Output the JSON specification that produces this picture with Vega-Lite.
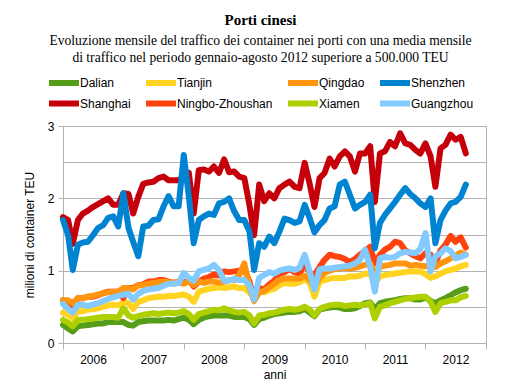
{
  "$schema": "https://vega.github.io/schema/vega-lite/v6.json",
  "width": 423,
  "height": 217,
  "autosize": {"type": "none"},
  "padding": {"left": 63, "top": 126, "right": 35, "bottom": 45},
  "background": "white",
  "title": {
    "text": "Porti cinesi",
    "subtitle": ["Evoluzione mensile del traffico dei container nei porti con una media mensile", "di traffico nel periodo gennaio-agosto 2012 superiore a 500.000 TEU"],
    "anchor": "middle",
    "frame": "group",
    "dx": -14,
    "offset": 10,
    "font": "Liberation Serif",
    "fontSize": 15,
    "fontWeight": "bold",
    "color": "#000000",
    "subtitleFont": "Liberation Serif",
    "subtitleFontSize": 13.6,
    "subtitleColor": "#000000",
    "subtitleLineHeight": 17,
    "subtitlePadding": 6
  },
  "data": {
    "values": [
      {"m": "2006-01-01", "Dalian": 0.25, "Tianjin": 0.42, "Qingdao": 0.59, "Shenzhen": 1.70, "Shanghai": 1.74, "Ningbo-Zhoushan": 0.59, "Xiamen": 0.32, "Guangzhou": 0.54},
      {"m": "2006-02-01", "Dalian": 0.20, "Tianjin": 0.39, "Qingdao": 0.59, "Shenzhen": 1.49, "Shanghai": 1.70, "Ningbo-Zhoushan": 0.57, "Xiamen": 0.28, "Guangzhou": 0.47},
      {"m": "2006-03-01", "Dalian": 0.16, "Tianjin": 0.34, "Qingdao": 0.55, "Shenzhen": 1.01, "Shanghai": 1.37, "Ningbo-Zhoushan": 0.50, "Xiamen": 0.23, "Guangzhou": 0.42},
      {"m": "2006-04-01", "Dalian": 0.23, "Tianjin": 0.44, "Qingdao": 0.62, "Shenzhen": 1.36, "Shanghai": 1.70, "Ningbo-Zhoushan": 0.62, "Xiamen": 0.32, "Guangzhou": 0.53},
      {"m": "2006-05-01", "Dalian": 0.24, "Tianjin": 0.44, "Qingdao": 0.62, "Shenzhen": 1.39, "Shanghai": 1.79, "Ningbo-Zhoushan": 0.62, "Xiamen": 0.32, "Guangzhou": 0.53},
      {"m": "2006-06-01", "Dalian": 0.25, "Tianjin": 0.46, "Qingdao": 0.64, "Shenzhen": 1.40, "Shanghai": 1.83, "Ningbo-Zhoushan": 0.64, "Xiamen": 0.33, "Guangzhou": 0.51},
      {"m": "2006-07-01", "Dalian": 0.26, "Tianjin": 0.47, "Qingdao": 0.65, "Shenzhen": 1.49, "Shanghai": 1.88, "Ningbo-Zhoushan": 0.64, "Xiamen": 0.34, "Guangzhou": 0.53},
      {"m": "2006-08-01", "Dalian": 0.27, "Tianjin": 0.48, "Qingdao": 0.67, "Shenzhen": 1.59, "Shanghai": 1.92, "Ningbo-Zhoushan": 0.66, "Xiamen": 0.35, "Guangzhou": 0.55},
      {"m": "2006-09-01", "Dalian": 0.27, "Tianjin": 0.50, "Qingdao": 0.69, "Shenzhen": 1.63, "Shanghai": 1.96, "Ningbo-Zhoushan": 0.69, "Xiamen": 0.36, "Guangzhou": 0.58},
      {"m": "2006-10-01", "Dalian": 0.29, "Tianjin": 0.52, "Qingdao": 0.70, "Shenzhen": 1.73, "Shanghai": 2.00, "Ningbo-Zhoushan": 0.71, "Xiamen": 0.36, "Guangzhou": 0.61},
      {"m": "2006-11-01", "Dalian": 0.29, "Tianjin": 0.53, "Qingdao": 0.71, "Shenzhen": 1.75, "Shanghai": 1.91, "Ningbo-Zhoushan": 0.71, "Xiamen": 0.36, "Guangzhou": 0.63},
      {"m": "2006-12-01", "Dalian": 0.29, "Tianjin": 0.52, "Qingdao": 0.71, "Shenzhen": 1.61, "Shanghai": 1.91, "Ningbo-Zhoushan": 0.71, "Xiamen": 0.35, "Guangzhou": 0.65},
      {"m": "2007-01-01", "Dalian": 0.29, "Tianjin": 0.56, "Qingdao": 0.76, "Shenzhen": 2.07, "Shanghai": 2.07, "Ningbo-Zhoushan": 0.62, "Xiamen": 0.48, "Guangzhou": 0.67},
      {"m": "2007-02-01", "Dalian": 0.25, "Tianjin": 0.55, "Qingdao": 0.76, "Shenzhen": 1.59, "Shanghai": 2.06, "Ningbo-Zhoushan": 0.76, "Xiamen": 0.38, "Guangzhou": 0.68},
      {"m": "2007-03-01", "Dalian": 0.24, "Tianjin": 0.47, "Qingdao": 0.74, "Shenzhen": 1.40, "Shanghai": 1.79, "Ningbo-Zhoushan": 0.76, "Xiamen": 0.35, "Guangzhou": 0.60},
      {"m": "2007-04-01", "Dalian": 0.29, "Tianjin": 0.57, "Qingdao": 0.80, "Shenzhen": 1.20, "Shanghai": 2.02, "Ningbo-Zhoushan": 0.80, "Xiamen": 0.37, "Guangzhou": 0.68},
      {"m": "2007-05-01", "Dalian": 0.30, "Tianjin": 0.59, "Qingdao": 0.80, "Shenzhen": 1.61, "Shanghai": 2.20, "Ningbo-Zhoushan": 0.81, "Xiamen": 0.39, "Guangzhou": 0.72},
      {"m": "2007-06-01", "Dalian": 0.31, "Tianjin": 0.62, "Qingdao": 0.82, "Shenzhen": 1.62, "Shanghai": 2.22, "Ningbo-Zhoushan": 0.85, "Xiamen": 0.40, "Guangzhou": 0.74},
      {"m": "2007-07-01", "Dalian": 0.31, "Tianjin": 0.63, "Qingdao": 0.83, "Shenzhen": 1.70, "Shanghai": 2.23, "Ningbo-Zhoushan": 0.85, "Xiamen": 0.41, "Guangzhou": 0.75},
      {"m": "2007-08-01", "Dalian": 0.31, "Tianjin": 0.64, "Qingdao": 0.84, "Shenzhen": 1.71, "Shanghai": 2.28, "Ningbo-Zhoushan": 0.87, "Xiamen": 0.40, "Guangzhou": 0.76},
      {"m": "2007-09-01", "Dalian": 0.31, "Tianjin": 0.64, "Qingdao": 0.85, "Shenzhen": 1.89, "Shanghai": 2.30, "Ningbo-Zhoushan": 0.87, "Xiamen": 0.41, "Guangzhou": 0.79},
      {"m": "2007-10-01", "Dalian": 0.32, "Tianjin": 0.65, "Qingdao": 0.84, "Shenzhen": 2.03, "Shanghai": 2.25, "Ningbo-Zhoushan": 0.85, "Xiamen": 0.42, "Guangzhou": 0.82},
      {"m": "2007-11-01", "Dalian": 0.31, "Tianjin": 0.65, "Qingdao": 0.83, "Shenzhen": 1.89, "Shanghai": 2.25, "Ningbo-Zhoushan": 0.83, "Xiamen": 0.41, "Guangzhou": 0.82},
      {"m": "2007-12-01", "Dalian": 0.33, "Tianjin": 0.66, "Qingdao": 0.84, "Shenzhen": 1.89, "Shanghai": 2.25, "Ningbo-Zhoushan": 0.85, "Xiamen": 0.42, "Guangzhou": 0.83},
      {"m": "2008-01-01", "Dalian": 0.35, "Tianjin": 0.67, "Qingdao": 0.82, "Shenzhen": 2.60, "Shanghai": 2.30, "Ningbo-Zhoushan": 0.83, "Xiamen": 0.44, "Guangzhou": 0.97},
      {"m": "2008-02-01", "Dalian": 0.32, "Tianjin": 0.64, "Qingdao": 0.85, "Shenzhen": 2.02, "Shanghai": 2.35, "Ningbo-Zhoushan": 0.87, "Xiamen": 0.40, "Guangzhou": 0.90},
      {"m": "2008-03-01", "Dalian": 0.26, "Tianjin": 0.57, "Qingdao": 0.80, "Shenzhen": 1.38, "Shanghai": 1.79, "Ningbo-Zhoushan": 0.78, "Xiamen": 0.32, "Guangzhou": 0.86},
      {"m": "2008-04-01", "Dalian": 0.32, "Tianjin": 0.71, "Qingdao": 0.85, "Shenzhen": 1.70, "Shanghai": 2.39, "Ningbo-Zhoushan": 0.85, "Xiamen": 0.40, "Guangzhou": 0.99},
      {"m": "2008-05-01", "Dalian": 0.35, "Tianjin": 0.73, "Qingdao": 0.83, "Shenzhen": 1.75, "Shanghai": 2.40, "Ningbo-Zhoushan": 0.89, "Xiamen": 0.42, "Guangzhou": 1.01},
      {"m": "2008-06-01", "Dalian": 0.37, "Tianjin": 0.75, "Qingdao": 0.85, "Shenzhen": 1.79, "Shanghai": 2.37, "Ningbo-Zhoushan": 0.91, "Xiamen": 0.44, "Guangzhou": 1.03},
      {"m": "2008-07-01", "Dalian": 0.38, "Tianjin": 0.76, "Qingdao": 0.85, "Shenzhen": 1.77, "Shanghai": 2.44, "Ningbo-Zhoushan": 0.95, "Xiamen": 0.46, "Guangzhou": 1.08},
      {"m": "2008-08-01", "Dalian": 0.38, "Tianjin": 0.77, "Qingdao": 0.83, "Shenzhen": 1.93, "Shanghai": 2.35, "Ningbo-Zhoushan": 0.93, "Xiamen": 0.45, "Guangzhou": 1.01},
      {"m": "2008-09-01", "Dalian": 0.38, "Tianjin": 0.76, "Qingdao": 0.85, "Shenzhen": 1.95, "Shanghai": 2.54, "Ningbo-Zhoushan": 0.99, "Xiamen": 0.48, "Guangzhou": 0.86},
      {"m": "2008-10-01", "Dalian": 0.38, "Tianjin": 0.77, "Qingdao": 0.87, "Shenzhen": 2.00, "Shanghai": 2.36, "Ningbo-Zhoushan": 0.98, "Xiamen": 0.45, "Guangzhou": 0.86},
      {"m": "2008-11-01", "Dalian": 0.36, "Tianjin": 0.78, "Qingdao": 0.87, "Shenzhen": 1.82, "Shanghai": 2.37, "Ningbo-Zhoushan": 0.99, "Xiamen": 0.43, "Guangzhou": 0.89},
      {"m": "2008-12-01", "Dalian": 0.36, "Tianjin": 0.76, "Qingdao": 0.94, "Shenzhen": 1.70, "Shanghai": 2.30, "Ningbo-Zhoushan": 1.00, "Xiamen": 0.42, "Guangzhou": 0.87},
      {"m": "2009-01-01", "Dalian": 0.36, "Tianjin": 0.76, "Qingdao": 1.10, "Shenzhen": 1.70, "Shanghai": 2.28, "Ningbo-Zhoushan": 1.02, "Xiamen": 0.43, "Guangzhou": 0.87},
      {"m": "2009-02-01", "Dalian": 0.33, "Tianjin": 0.70, "Qingdao": 0.78, "Shenzhen": 1.54, "Shanghai": 1.91, "Ningbo-Zhoushan": 0.85, "Xiamen": 0.38, "Guangzhou": 0.80},
      {"m": "2009-03-01", "Dalian": 0.25, "Tianjin": 0.63, "Qingdao": 0.58, "Shenzhen": 1.01, "Shanghai": 1.49, "Ningbo-Zhoushan": 0.60, "Xiamen": 0.27, "Guangzhou": 0.60},
      {"m": "2009-04-01", "Dalian": 0.33, "Tianjin": 0.71, "Qingdao": 0.70, "Shenzhen": 1.38, "Shanghai": 2.19, "Ningbo-Zhoushan": 0.76, "Xiamen": 0.38, "Guangzhou": 0.90},
      {"m": "2009-05-01", "Dalian": 0.35, "Tianjin": 0.70, "Qingdao": 0.72, "Shenzhen": 1.33, "Shanghai": 1.96, "Ningbo-Zhoushan": 0.74, "Xiamen": 0.39, "Guangzhou": 0.94},
      {"m": "2009-06-01", "Dalian": 0.38, "Tianjin": 0.73, "Qingdao": 0.77, "Shenzhen": 1.47, "Shanghai": 2.07, "Ningbo-Zhoushan": 0.81, "Xiamen": 0.41, "Guangzhou": 0.98},
      {"m": "2009-07-01", "Dalian": 0.40, "Tianjin": 0.75, "Qingdao": 0.82, "Shenzhen": 1.38, "Shanghai": 2.00, "Ningbo-Zhoushan": 0.86, "Xiamen": 0.42, "Guangzhou": 0.96},
      {"m": "2009-08-01", "Dalian": 0.41, "Tianjin": 0.80, "Qingdao": 0.87, "Shenzhen": 1.54, "Shanghai": 2.14, "Ningbo-Zhoushan": 0.96, "Xiamen": 0.44, "Guangzhou": 1.00},
      {"m": "2009-09-01", "Dalian": 0.42, "Tianjin": 0.83, "Qingdao": 0.89, "Shenzhen": 1.72, "Shanghai": 2.19, "Ningbo-Zhoushan": 0.98, "Xiamen": 0.46, "Guangzhou": 1.02},
      {"m": "2009-10-01", "Dalian": 0.43, "Tianjin": 0.82, "Qingdao": 0.89, "Shenzhen": 1.70, "Shanghai": 2.23, "Ningbo-Zhoushan": 1.02, "Xiamen": 0.47, "Guangzhou": 1.03},
      {"m": "2009-11-01", "Dalian": 0.43, "Tianjin": 0.82, "Qingdao": 0.89, "Shenzhen": 1.66, "Shanghai": 2.16, "Ningbo-Zhoushan": 0.98, "Xiamen": 0.46, "Guangzhou": 1.01},
      {"m": "2009-12-01", "Dalian": 0.44, "Tianjin": 0.84, "Qingdao": 0.89, "Shenzhen": 1.68, "Shanghai": 2.14, "Ningbo-Zhoushan": 0.96, "Xiamen": 0.47, "Guangzhou": 1.04},
      {"m": "2010-01-01", "Dalian": 0.47, "Tianjin": 0.88, "Qingdao": 0.93, "Shenzhen": 1.91, "Shanghai": 2.49, "Ningbo-Zhoushan": 1.10, "Xiamen": 0.50, "Guangzhou": 1.22},
      {"m": "2010-02-01", "Dalian": 0.42, "Tianjin": 0.83, "Qingdao": 0.87, "Shenzhen": 1.72, "Shanghai": 2.19, "Ningbo-Zhoushan": 0.97, "Xiamen": 0.46, "Guangzhou": 0.98},
      {"m": "2010-03-01", "Dalian": 0.37, "Tianjin": 0.64, "Qingdao": 0.78, "Shenzhen": 1.53, "Shanghai": 1.88, "Ningbo-Zhoushan": 0.94, "Xiamen": 0.38, "Guangzhou": 0.74},
      {"m": "2010-04-01", "Dalian": 0.46, "Tianjin": 0.85, "Qingdao": 0.90, "Shenzhen": 1.63, "Shanghai": 2.28, "Ningbo-Zhoushan": 1.05, "Xiamen": 0.47, "Guangzhou": 1.02},
      {"m": "2010-05-01", "Dalian": 0.48, "Tianjin": 0.87, "Qingdao": 0.97, "Shenzhen": 1.70, "Shanghai": 2.35, "Ningbo-Zhoushan": 1.15, "Xiamen": 0.50, "Guangzhou": 1.03},
      {"m": "2010-06-01", "Dalian": 0.49, "Tianjin": 0.89, "Qingdao": 1.00, "Shenzhen": 1.86, "Shanghai": 2.55, "Ningbo-Zhoushan": 1.22, "Xiamen": 0.52, "Guangzhou": 1.03},
      {"m": "2010-07-01", "Dalian": 0.50, "Tianjin": 0.90, "Qingdao": 1.02, "Shenzhen": 1.89, "Shanghai": 2.44, "Ningbo-Zhoushan": 1.20, "Xiamen": 0.53, "Guangzhou": 1.04},
      {"m": "2010-08-01", "Dalian": 0.49, "Tianjin": 0.90, "Qingdao": 1.03, "Shenzhen": 2.19, "Shanghai": 2.58, "Ningbo-Zhoushan": 1.19, "Xiamen": 0.53, "Guangzhou": 1.05},
      {"m": "2010-09-01", "Dalian": 0.47, "Tianjin": 0.90, "Qingdao": 1.04, "Shenzhen": 2.23, "Shanghai": 2.65, "Ningbo-Zhoushan": 1.16, "Xiamen": 0.51, "Guangzhou": 1.06},
      {"m": "2010-10-01", "Dalian": 0.47, "Tianjin": 0.92, "Qingdao": 1.03, "Shenzhen": 2.05, "Shanghai": 2.58, "Ningbo-Zhoushan": 1.12, "Xiamen": 0.52, "Guangzhou": 1.07},
      {"m": "2010-11-01", "Dalian": 0.48, "Tianjin": 0.92, "Qingdao": 1.04, "Shenzhen": 1.86, "Shanghai": 2.37, "Ningbo-Zhoushan": 1.16, "Xiamen": 0.53, "Guangzhou": 1.10},
      {"m": "2010-12-01", "Dalian": 0.51, "Tianjin": 0.93, "Qingdao": 1.06, "Shenzhen": 1.91, "Shanghai": 2.62, "Ningbo-Zhoushan": 1.22, "Xiamen": 0.52, "Guangzhou": 1.15},
      {"m": "2011-01-01", "Dalian": 0.55, "Tianjin": 0.96, "Qingdao": 1.08, "Shenzhen": 1.95, "Shanghai": 2.62, "Ningbo-Zhoushan": 1.27, "Xiamen": 0.53, "Guangzhou": 1.29},
      {"m": "2011-02-01", "Dalian": 0.56, "Tianjin": 0.95, "Qingdao": 1.10, "Shenzhen": 2.05, "Shanghai": 2.72, "Ningbo-Zhoushan": 1.33, "Xiamen": 0.55, "Guangzhou": 1.05},
      {"m": "2011-03-01", "Dalian": 0.47, "Tianjin": 0.83, "Qingdao": 0.96, "Shenzhen": 1.31, "Shanghai": 1.95, "Ningbo-Zhoushan": 1.10, "Xiamen": 0.34, "Guangzhou": 0.71},
      {"m": "2011-04-01", "Dalian": 0.55, "Tianjin": 0.92, "Qingdao": 1.05, "Shenzhen": 1.66, "Shanghai": 2.62, "Ningbo-Zhoushan": 1.22, "Xiamen": 0.50, "Guangzhou": 1.17},
      {"m": "2011-05-01", "Dalian": 0.57, "Tianjin": 0.94, "Qingdao": 1.07, "Shenzhen": 1.77, "Shanghai": 2.65, "Ningbo-Zhoushan": 1.29, "Xiamen": 0.52, "Guangzhou": 1.19},
      {"m": "2011-06-01", "Dalian": 0.58, "Tianjin": 0.95, "Qingdao": 1.08, "Shenzhen": 1.86, "Shanghai": 2.78, "Ningbo-Zhoushan": 1.33, "Xiamen": 0.55, "Guangzhou": 1.18},
      {"m": "2011-07-01", "Dalian": 0.59, "Tianjin": 0.96, "Qingdao": 1.10, "Shenzhen": 1.95, "Shanghai": 2.72, "Ningbo-Zhoushan": 1.40, "Xiamen": 0.57, "Guangzhou": 1.19},
      {"m": "2011-08-01", "Dalian": 0.61, "Tianjin": 0.97, "Qingdao": 1.10, "Shenzhen": 2.05, "Shanghai": 2.90, "Ningbo-Zhoushan": 1.38, "Xiamen": 0.59, "Guangzhou": 1.24},
      {"m": "2011-09-01", "Dalian": 0.62, "Tianjin": 0.98, "Qingdao": 1.10, "Shenzhen": 2.14, "Shanghai": 2.76, "Ningbo-Zhoushan": 1.28, "Xiamen": 0.61, "Guangzhou": 1.26},
      {"m": "2011-10-01", "Dalian": 0.62, "Tianjin": 0.99, "Qingdao": 1.07, "Shenzhen": 2.06, "Shanghai": 2.74, "Ningbo-Zhoushan": 1.24, "Xiamen": 0.62, "Guangzhou": 1.25},
      {"m": "2011-11-01", "Dalian": 0.60, "Tianjin": 0.99, "Qingdao": 1.08, "Shenzhen": 2.00, "Shanghai": 2.67, "Ningbo-Zhoushan": 1.20, "Xiamen": 0.63, "Guangzhou": 1.24},
      {"m": "2011-12-01", "Dalian": 0.60, "Tianjin": 0.99, "Qingdao": 1.07, "Shenzhen": 1.93, "Shanghai": 2.62, "Ningbo-Zhoushan": 1.17, "Xiamen": 0.64, "Guangzhou": 1.30},
      {"m": "2012-01-01", "Dalian": 0.63, "Tianjin": 0.95, "Qingdao": 1.06, "Shenzhen": 1.88, "Shanghai": 2.76, "Ningbo-Zhoushan": 1.24, "Xiamen": 0.64, "Guangzhou": 1.52},
      {"m": "2012-02-01", "Dalian": 0.58, "Tianjin": 0.90, "Qingdao": 1.08, "Shenzhen": 2.00, "Shanghai": 2.58, "Ningbo-Zhoushan": 1.22, "Xiamen": 0.57, "Guangzhou": 0.99},
      {"m": "2012-03-01", "Dalian": 0.55, "Tianjin": 0.92, "Qingdao": 1.05, "Shenzhen": 1.38, "Shanghai": 2.16, "Ningbo-Zhoushan": 1.10, "Xiamen": 0.43, "Guangzhou": 1.20},
      {"m": "2012-04-01", "Dalian": 0.59, "Tianjin": 0.96, "Qingdao": 1.10, "Shenzhen": 1.70, "Shanghai": 2.69, "Ningbo-Zhoushan": 1.28, "Xiamen": 0.55, "Guangzhou": 1.24},
      {"m": "2012-05-01", "Dalian": 0.62, "Tianjin": 0.99, "Qingdao": 1.13, "Shenzhen": 1.83, "Shanghai": 2.74, "Ningbo-Zhoushan": 1.36, "Xiamen": 0.57, "Guangzhou": 1.31},
      {"m": "2012-06-01", "Dalian": 0.66, "Tianjin": 1.01, "Qingdao": 1.17, "Shenzhen": 1.93, "Shanghai": 2.88, "Ningbo-Zhoushan": 1.48, "Xiamen": 0.59, "Guangzhou": 1.27},
      {"m": "2012-07-01", "Dalian": 0.70, "Tianjin": 1.03, "Qingdao": 1.21, "Shenzhen": 1.95, "Shanghai": 2.81, "Ningbo-Zhoushan": 1.40, "Xiamen": 0.59, "Guangzhou": 1.17},
      {"m": "2012-08-01", "Dalian": 0.73, "Tianjin": 1.06, "Qingdao": 1.25, "Shenzhen": 2.02, "Shanghai": 2.85, "Ningbo-Zhoushan": 1.46, "Xiamen": 0.63, "Guangzhou": 1.19},
      {"m": "2012-09-01", "Dalian": 0.75, "Tianjin": 1.08, "Qingdao": 1.22, "Shenzhen": 2.19, "Shanghai": 2.62, "Ningbo-Zhoushan": 1.32, "Xiamen": 0.65, "Guangzhou": 1.22}
    ]
  },
  "transform": [
    {"fold": ["Dalian", "Shanghai", "Tianjin", "Ningbo-Zhoushan", "Qingdao", "Xiamen", "Shenzhen", "Guangzhou"], "as": ["porto", "teu"]}
  ],
  "mark": {"type": "line", "strokeWidth": 6, "strokeJoin": "round", "strokeCap": "round"},
  "encoding": {
    "x": {
      "field": "m",
      "type": "temporal",
      "scale": {"type": "utc", "domain": [{"year": 2006, "month": 1, "date": 1, "utc": true}, {"year": 2013, "month": 1, "date": 1, "utc": true}]},
      "axis": {
        "title": "anni",
        "values": [
          {"year": 2006, "month": 1, "date": 1, "utc": true},
          {"year": 2007, "month": 1, "date": 1, "utc": true},
          {"year": 2008, "month": 1, "date": 1, "utc": true},
          {"year": 2009, "month": 1, "date": 1, "utc": true},
          {"year": 2010, "month": 1, "date": 1, "utc": true},
          {"year": 2011, "month": 1, "date": 1, "utc": true},
          {"year": 2012, "month": 1, "date": 1, "utc": true},
          {"year": 2013, "month": 1, "date": 1, "utc": true}
        ],
        "labelExpr": "utcyear(datum.value) > 2012 ? '' : utcFormat(datum.value, '%Y')",
        "labelOffset": 30,
        "labelFlush": false,
        "labelOverlap": false,
        "labelPadding": 5,
        "tickSize": 6,
        "grid": false,
        "titlePadding": 4
      }
    },
    "y": {
      "field": "teu",
      "type": "quantitative",
      "scale": {"domain": [0, 3], "nice": false},
      "axis": {
        "title": "milioni di container TEU",
        "values": [0, 0.5, 1, 1.5, 2, 2.5, 3],
        "labelExpr": "datum.value % 1 == 0 ? format(datum.value, 'd') : ''",
        "tickOpacity": {"condition": {"test": "datum.value % 1 != 0", "value": 0}, "value": 1},
        "tickSize": 5,
        "labelPadding": 4,
        "grid": true,
        "titlePadding": 11
      }
    },
    "color": {
      "field": "porto",
      "type": "nominal",
      "scale": {
        "domain": ["Dalian", "Tianjin", "Qingdao", "Shenzhen", "Shanghai", "Ningbo-Zhoushan", "Xiamen", "Guangzhou"],
        "range": ["#579d1c", "#ffd320", "#ff950e", "#0084d1", "#c5000b", "#ff420e", "#aecf00", "#83caff"]
      },
      "legend": {
        "title": null,
        "orient": "none",
        "legendX": -7,
        "legendY": -51,
        "direction": "horizontal",
        "columns": 4,
        "columnPadding": 3,
        "rowPadding": -3.5,
        "symbolType": "M-3,0H3",
        "symbolSize": 100,
        "symbolStrokeWidth": 6,
        "labelFont": "Liberation Sans",
        "labelFontSize": 12,
        "labelColor": "#000000",
        "labelOffset": 8,
        "labelLimit": 200,
        "padding": 0
      }
    }
  },
  "config": {
    "view": {"stroke": "#b3b3b3", "strokeWidth": 1},
    "axis": {
      "labelFont": "Liberation Sans",
      "labelFontSize": 12,
      "labelColor": "#000000",
      "titleFont": "Liberation Sans",
      "titleFontSize": 12,
      "titleFontWeight": "normal",
      "titleColor": "#000000",
      "domainColor": "#b3b3b3",
      "tickColor": "#b3b3b3",
      "gridColor": "#b3b3b3"
    }
  }
}
